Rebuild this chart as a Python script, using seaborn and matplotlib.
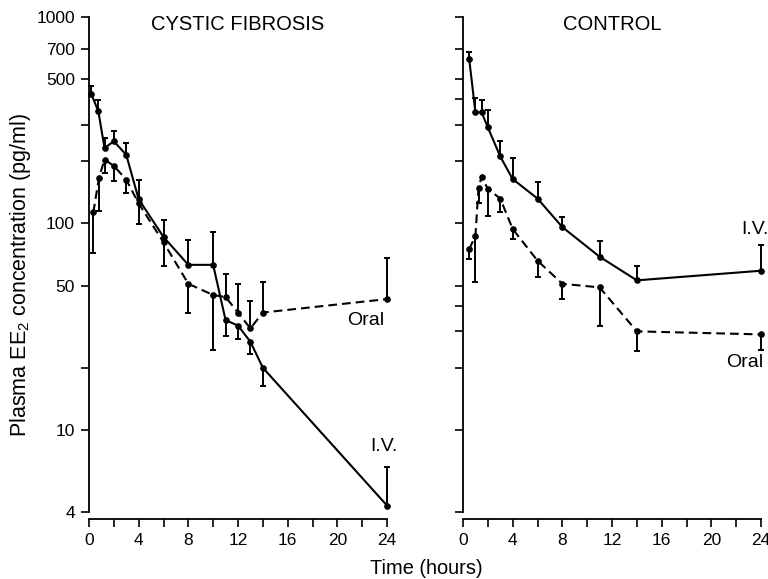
import pandas as pd
import matplotlib
matplotlib.use('Agg')
import matplotlib.pyplot as plt
import seaborn as sns

# adjustable constants
FIG_W, FIG_H, DPI = 7.68, 5.79, 100
LINE_W = 1.5
ERR_W = 1.4
CAP_SIZE = 5
MARKER_SIZE = 4
DASHES = (4.2, 2.4)
TICK_FONT = 12.5
TITLE_FONT = 14.5
TEXT_FONT = 14
YLABEL_FONT = 15.5
XLABEL_FONT = 14.4

# cystic fibrosis panel (pg/ml); *_bar = value at the end of the error bar
cf_iv_t = [0.17, 0.75, 1.25, 2, 3, 4, 6, 8, 10, 11, 12, 13, 14, 24]
cf_iv_c = [425, 350, 232, 250, 215, 131, 86, 63, 63, 34, 32, 26.7, 20, 4.3]
cf_iv_bar = [461, 397, 259, 279, 245, 163, 104, 83, 91, 28.4, 27.5, 23.3, 16.4, 6.6]

cf_or_t = [0.35, 0.8, 1.25, 2, 3, 4, 6, 8, 10, 11, 12, 13, 14, 24]
cf_or_c = [113, 166, 204, 190, 163, 125, 81, 51, 45, 44, 37, 31, 37, 43]
cf_or_bar = [72, 115, 176, 160, 141, 99, 62, 37, 24.4, 57, 51, 42, 52, 68]

# control panel
ct_iv_t = [0.5, 1, 1.5, 2, 3, 4, 6, 8, 11, 14, 24]
ct_iv_c = [625, 345, 345, 292, 211, 164, 132, 96, 69, 53, 59]
ct_iv_bar = [680, 404, 397, 355, 250, 208, 159, 108, 82, 62, 79]

ct_or_t = [0.5, 1, 1.25, 1.5, 2, 3, 4, 6, 8, 11, 14, 24]
ct_or_c = [75, 87, 149, 168, 147, 132, 94, 66, 51, 49, 30, 29]
ct_or_bar = [67, 52, 126, 168, 109, 113, 84, 55, 43, 32, 24.2, 24.4]

# axis ticks
x_ticks = list(range(0, 25, 2))
x_labels = [str(v) if v % 4 == 0 else '' for v in x_ticks]
cf_y_ticks = [4, 10, 20, 50, 100, 200, 300, 500, 700, 1000]
cf_y_labels = ['4', '10', '', '50', '100', '', '', '500', '700', '1000']
ct_y_ticks = [4, 10, 20, 30, 40, 50, 100, 200, 300, 400, 500, 700, 1000]


def make_frame(t_iv, c_iv, t_or, c_or):
    iv = pd.DataFrame({'time': t_iv, 'conc': c_iv, 'route': 'I.V.'})
    oral = pd.DataFrame({'time': t_or, 'conc': c_or, 'route': 'Oral'})
    return pd.concat([iv, oral], ignore_index=True)


def draw_bars(ax, t, c, bar):
    # one-sided error bars with a cap at the far end
    for ti, ci, bi in zip(t, c, bar):
        if bi == ci:
            continue
        ax.vlines(ti, ci, bi, color='black', lw=ERR_W, clip_on=False)
        ax.plot([ti], [bi], marker='_', ms=CAP_SIZE, mew=ERR_W, color='black', clip_on=False)


def draw_panel(ax, df, bars, title, y_ticks, y_labels):
    sns.lineplot(data=df, x='time', y='conc', style='route', estimator=None, sort=True,
                 dashes={'I.V.': '', 'Oral': DASHES}, markers={'I.V.': 'o', 'Oral': 'o'},
                 color='black', lw=LINE_W, markersize=MARKER_SIZE, markeredgecolor='black',
                 legend=False, clip_on=False, ax=ax)
    for t, c, b in bars:
        draw_bars(ax, t, c, b)

    ax.set_yscale('log')
    ax.set_ylim(4, 1000)
    ax.set_xlim(0, 24)
    ax.set_yticks(y_ticks)
    ax.set_yticklabels(y_labels)
    ax.minorticks_off()
    ax.set_xticks(x_ticks)
    ax.set_xticklabels(x_labels)
    ax.set_xlabel('')
    ax.set_ylabel('')
    ax.tick_params(axis='both', length=6, width=1.2, labelsize=TICK_FONT, pad=4,
                   color='black', labelcolor='black')

    sns.despine(ax=ax)
    ax.spines['bottom'].set_position(('outward', 5))
    for side in ['left', 'bottom']:
        ax.spines[side].set_linewidth(1.3)
        ax.spines[side].set_color('black')

    ax.text(0.5, 0.984, title, transform=ax.transAxes, ha='center', va='center',
            fontsize=TITLE_FONT, color='black')


def main():
    sns.set_style('ticks')
    plt.rcParams['font.family'] = ['Liberation Sans', 'DejaVu Sans']
    plt.rcParams['text.color'] = 'black'
    plt.rcParams['mathtext.fontset'] = 'custom'
    plt.rcParams['mathtext.rm'] = 'Liberation Sans'
    plt.rcParams['mathtext.it'] = 'Liberation Sans:italic'

    fig = plt.figure(figsize=(FIG_W, FIG_H), dpi=DPI)
    ax_cf = fig.add_axes([89 / 768, 1 - 512 / 579, 298 / 768, 495 / 579])
    ax_ct = fig.add_axes([463 / 768, 1 - 512 / 579, 298 / 768, 495 / 579])

    cf = make_frame(cf_iv_t, cf_iv_c, cf_or_t, cf_or_c)
    ct = make_frame(ct_iv_t, ct_iv_c, ct_or_t, ct_or_c)

    draw_panel(ax_cf, cf, [(cf_iv_t, cf_iv_c, cf_iv_bar), (cf_or_t, cf_or_c, cf_or_bar)],
               'CYSTIC FIBROSIS', cf_y_ticks, cf_y_labels)
    draw_panel(ax_ct, ct, [(ct_iv_t, ct_iv_c, ct_iv_bar), (ct_or_t, ct_or_c, ct_or_bar)],
               'CONTROL', ct_y_ticks, [''] * len(ct_y_ticks))

    # route labels
    ax_cf.text(23.8, 34, 'Oral', ha='right', va='center', fontsize=TEXT_FONT)
    ax_cf.text(23.75, 8.3, 'I.V.', ha='center', va='center', fontsize=TEXT_FONT)
    ax_ct.text(23.5, 93, 'I.V.', ha='center', va='center', fontsize=TEXT_FONT)
    ax_ct.text(24.15, 21.2, 'Oral', ha='right', va='center', fontsize=TEXT_FONT)

    fig.text(21 / 768, 1 - 275 / 579, 'Plasma EE$_2$ concentration (pg/ml)', rotation=90,
             ha='center', va='center', fontsize=YLABEL_FONT)
    fig.text(426 / 768, 1 - 569 / 579, 'Time (hours)', ha='center', va='center', fontsize=XLABEL_FONT)

    fig.savefig('out.png', dpi=DPI)


if __name__ == "__main__":
    main()
